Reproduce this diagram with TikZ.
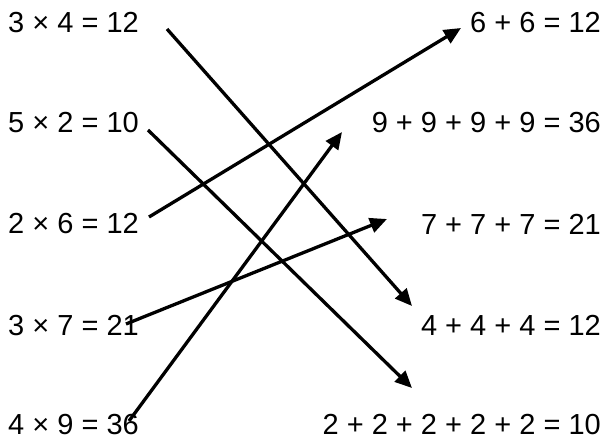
\documentclass[tikz,border=0pt]{standalone}
\usepackage{fontspec}
\setmainfont{Liberation Sans}
\usetikzlibrary{arrows.meta}
\begin{document}
\begin{tikzpicture}[x=1pt,y=-1pt,
  lbl/.style={inner sep=0pt,font=\fontsize{29}{34}\selectfont},
  lft/.style={lbl,anchor=base west},
  rgt/.style={lbl,anchor=base east},
  link/.style={line width=3.3pt,-{Triangle[length=17pt,width=15pt]}}]
\useasboundingbox (0,0) rectangle (606,440);
\node[lft] (l1) at (8,32) {3 × 4 = 12};
\node[lft] (l2) at (8,132) {5 × 2 = 10};
\node[lft] (l3) at (8,233) {2 × 6 = 12};
\node[lft] (l4) at (8,335) {3 × 7 = 21};
\node[lft] (l5) at (8,434) {4 × 9 = 36};
\node[rgt] (r1) at (601,32) {6 + 6 = 12};
\node[rgt] (r2) at (601,132) {9 + 9 + 9 + 9 = 36};
\node[rgt] (r3) at (601,234) {7 + 7 + 7 = 21};
\node[rgt] (r4) at (601,335) {4 + 4 + 4 = 12};
\node[rgt] (r5) at (601,434) {2 + 2 + 2 + 2 + 2 = 10};
\coordinate (s1) at (167,29);
\coordinate (s2) at (148,130);
\coordinate (s3) at (149,217);
\coordinate (s4) at (126,324);
\coordinate (s5) at (129,421);
\coordinate (t1) at (412,306);
\coordinate (t2) at (412,388);
\coordinate (t3) at (461,28);
\coordinate (t4) at (387,219);
\coordinate (t5) at (342,132);
\draw[link] (s1) -- (t1);
\draw[link] (s2) -- (t2);
\draw[link] (s3) -- (t3);
\draw[link] (s4) -- (t4);
\draw[link] (s5) -- (t5);
\end{tikzpicture}
\end{document}
